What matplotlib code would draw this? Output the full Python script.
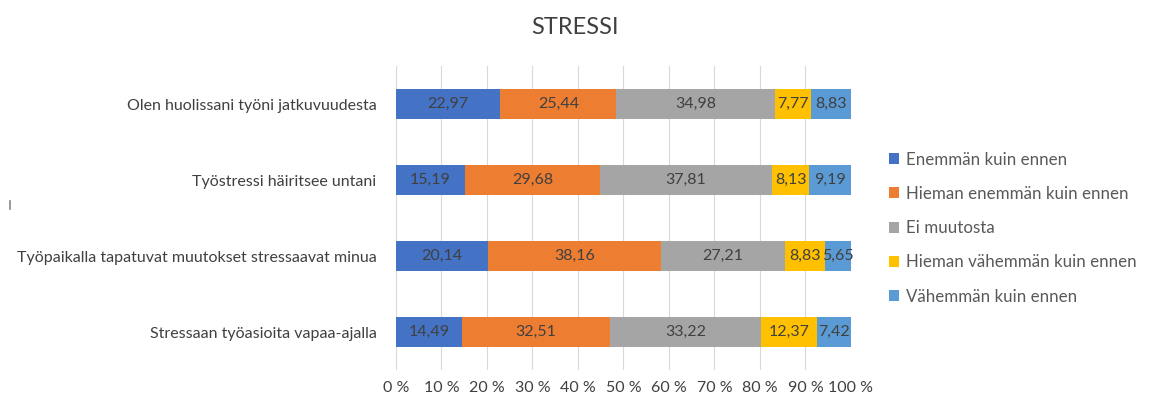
import numpy as np
import matplotlib.pyplot as plt
from matplotlib.lines import Line2D

plt.rcParams['font.family'] = ['Lato', 'DejaVu Sans']

kysymykset = [
    "Olen huolissani työni jatkuvuudesta",
    "Työstressi häiritsee untani",
    "Työpaikalla tapatuvat muutokset stressaavat minua",
    "Stressaan työasioita vapaa-ajalla",
]
sarjat = [
    "Enemmän kuin ennen",
    "Hieman enemmän kuin ennen",
    "Ei muutosta",
    "Hieman vähemmän kuin ennen",
    "Vähemmän kuin ennen",
]
arvot = [
    [22.97, 15.19, 20.14, 14.49],
    [25.44, 29.68, 38.16, 32.51],
    [34.98, 37.81, 27.21, 33.22],
    [7.77, 8.13, 8.83, 12.37],
    [8.83, 9.19, 5.65, 7.42],
]
varit = ['#4472C4', '#ED7D31', '#A5A5A5', '#FFC000', '#5B9BD5']

fig = plt.figure(figsize=(11.49, 3.98), dpi=100)
ax = fig.add_axes([0.3446, 0.070, 0.396, 0.764])

y = np.arange(len(kysymykset))[::-1]
arr = np.array(arvot)
totals = arr.sum(axis=0)
left = np.zeros(len(kysymykset))
for i, (nimi, vari) in enumerate(zip(sarjat, varit)):
    osuus = arr[i] / totals * 100
    ax.barh(y, osuus, left=left, height=0.4, color=vari, label=nimi, zorder=2)
    for yy, l, w, v in zip(y, left, osuus, arr[i]):
        ax.text(l + w / 2, yy, f"{v:.2f}".replace('.', ','), ha='center', va='center',
                fontsize=11.5, color='#404040', zorder=3)
    left += osuus

ax.set_xlim(0, 100)
ax.set_ylim(-0.5, len(kysymykset) - 0.5)
ax.set_xticks(np.arange(0, 101, 10))
ax.set_xticklabels([f"{t} %" for t in range(0, 101, 10)])
ax.set_yticks(y)
ax.set_yticklabels(kysymykset)
ax.tick_params(axis='both', length=0, labelsize=11.5, labelcolor='#404040')
ax.tick_params(axis='y', pad=14)
ax.tick_params(axis='x', pad=8)
ax.grid(axis='x', color='#d9d9d9', linewidth=0.8, zorder=0)
for s in ax.spines.values():
    s.set_visible(False)

fig.text(0.5, 0.93, "STRESSI", ha='center', va='center', fontsize=17, color='#404040')

# pieni reunamerkki vasemmalla
fig.add_artist(Line2D([0.0087, 0.0087], [0.475, 0.495], color='#888888', linewidth=1.2))

leg = ax.legend(loc='center left', bbox_to_anchor=(1.05, 0.467), frameon=False,
                fontsize=12.2, handlelength=0.6, handleheight=0.6, handletextpad=0.4,
                labelspacing=1.08, labelcolor='#595959')

fig.savefig("out.png", dpi=100)
